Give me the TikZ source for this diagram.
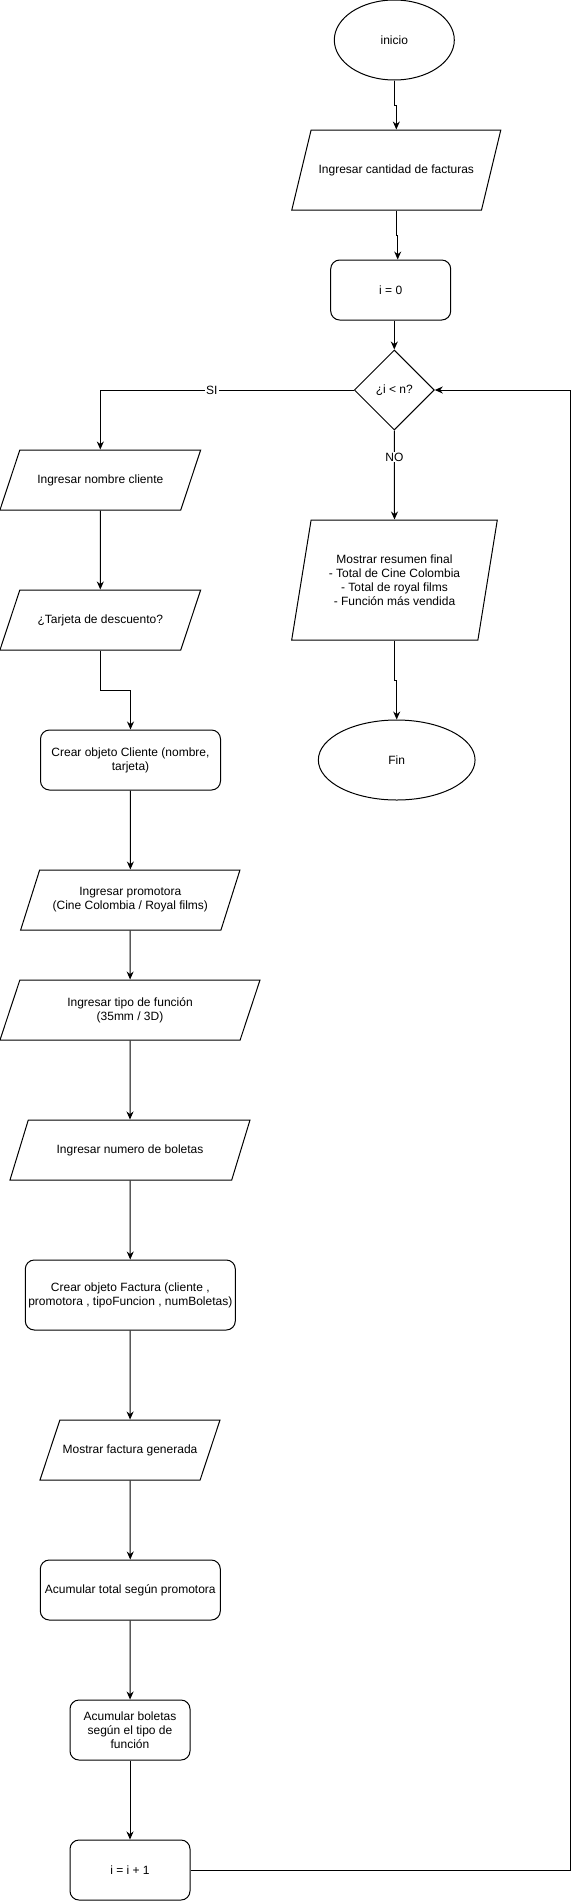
\documentclass[tikz,border=0pt]{standalone}
\usepackage{fontspec}
\setmainfont{Liberation Sans}
\usetikzlibrary{shapes.geometric,arrows.meta}

\begin{document}
\begin{tikzpicture}[x=1pt, y=-1pt, line width=1pt,
    every node/.style={font=\fontsize{12}{14}\selectfont, align=center},
    proc/.style={draw, rectangle, rounded corners=9pt, inner sep=2pt},
    io/.style={draw, trapezium, trapezium left angle=#1, trapezium right angle=180-#1, trapezium stretches body, inner xsep=2pt},
    term/.style={draw, ellipse, inner sep=1pt},
    cond/.style={draw, diamond, minimum width=80, minimum height=80, inner sep=1pt},
    arr/.style={-{Stealth[length=8pt,width=7pt]}}]
    \useasboundingbox (0,0) rectangle (579,1901);

    % Inicio
    \node[term, minimum width=120, minimum height=80] (ini) at (394.3,40) {inicio};
    \node[io=76.4, inner ysep=34.3, minimum width=209, minimum height=80] (cant) at (396.3,170) {Ingresar cantidad de facturas};
    \node[proc, minimum width=120, minimum height=60] (i0) at (390.7,290) {i = 0};
    \node[cond] (dec) at (394.3,390) {¿i < n?};

    % Rama NO
    \node[io=80.8, inner ysep=34.5, minimum width=205.6, minimum height=120] (res) at (394.5,580) {Mostrar resumen final\\- Total de Cine Colombia\\- Total de royal films\\- Función más vendida};
    \node[term, minimum width=156.7, minimum height=80] (fin) at (396.7,760) {Fin};

    % Rama SI
    \node[io=71.6, inner ysep=24.3, minimum width=200.7, minimum height=60] (nom) at (100.3,480) {Ingresar nombre cliente};
    \node[io=71.6, inner ysep=24.3, minimum width=200.7, minimum height=60] (tar) at (100.3,620) {¿Tarjeta de descuento?};
    \node[proc, minimum width=180, minimum height=60] (cli) at (130.5,760) {Crear objeto Cliente (nombre,\\tarjeta)};
    \node[io=72.2, inner ysep=17.2, minimum width=219.3, minimum height=60] (pro) at (130.3,900) {Ingresar promotora\\(Cine Colombia / Royal films)};
    \node[io=71.6, inner ysep=17.2, minimum width=260, minimum height=60] (tip) at (130,1010) {Ingresar tipo de función\\(35mm / 3D)};
    \node[io=73, inner ysep=24.3, minimum width=240, minimum height=60] (bol) at (130,1150) {Ingresar numero de boletas};
    \node[proc, minimum width=210, minimum height=70] (fac) at (130.3,1295) {Crear objeto Factura (cliente ,\\promotora , tipoFuncion , numBoletas)};
    \node[io=71.6, inner ysep=24.3, minimum width=180, minimum height=60] (mos) at (130,1450) {Mostrar factura generada};
    \node[proc, minimum width=180, minimum height=60] (acu) at (130.3,1590) {Acumular total según promotora};
    \node[proc, minimum width=120, minimum height=60] (acb) at (130,1730) {Acumular boletas\\según el tipo de\\función};
    \node[proc, minimum width=120, minimum height=60] (inc) at (130,1870) {i = i + 1};

    % Conexiones
    \draw[arr] (ini.south) -- ++(0,25) -| (cant.north);
    \draw[arr] (cant.south) -- ++(0,25) -| ([xshift=7pt]i0.north);
    \draw[arr] ([xshift=3.6pt]i0.south) -- (dec.north);
    \draw[arr] (dec.west) -| (nom.north) node[pos=0.28, fill=white, inner sep=1pt] {SI};
    \draw[arr] (dec.south) -- (res.north) node[pos=0.3, fill=white, inner sep=1pt] {NO};
    \draw[arr] (res.south) -- ++(0,40) -| (fin.north);
    \draw[arr] (nom) -- (tar);
    \draw[arr] (tar.south) -- ++(0,40) -| (cli.north);
    \draw[arr] (cli) -- (pro);
    \draw[arr] (pro) -- (tip);
    \draw[arr] (tip) -- (bol);
    \draw[arr] (bol) -- (fac);
    \draw[arr] (fac) -- (mos);
    \draw[arr] (mos) -- (acu);
    \draw[arr] (acu) -- (acb);
    \draw[arr] (acb) -- (inc);
    \draw[arr] (inc.east) -- ++(380,0) |- (dec.east);
\end{tikzpicture}
\end{document}
